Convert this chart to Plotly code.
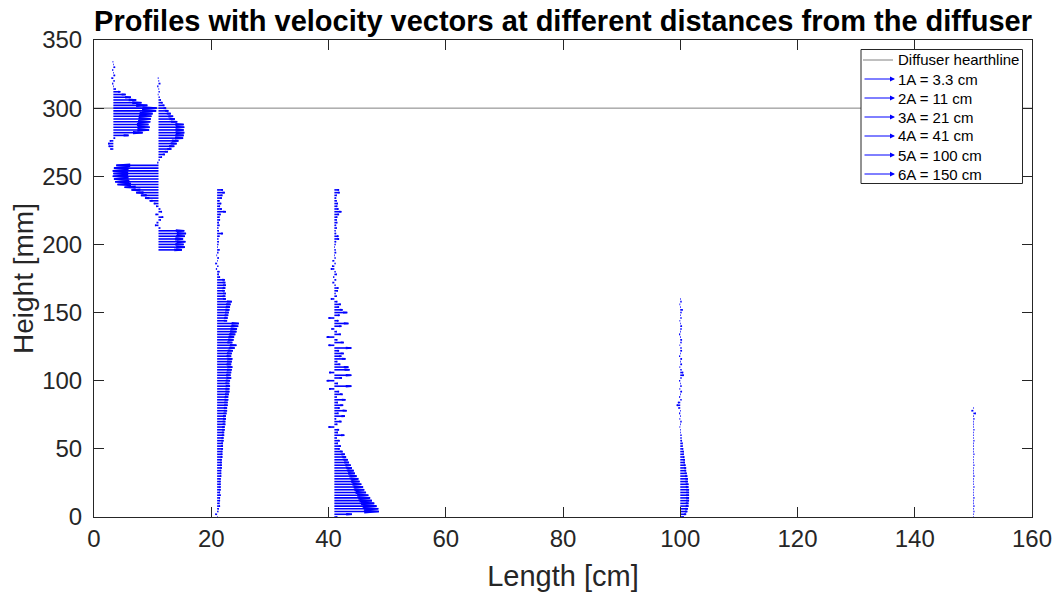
import plotly.graph_objects as go

# ---------------- data ----------------
X_POS = [3.3, 11, 21, 41, 100, 150]          # cm, profile positions
NAMES = ["1A = 3.3 cm", "2A = 11 cm", "3A = 21 cm", "4A = 41 cm", "5A = 100 cm", "6A = 150 cm"]
DIFFUSER_H = 300                               # mm

H1 = list(range(270, 336, 2))
U1 = [-0.5, -0.8, -0.9, -0.6, 0.3, 2.6, 5.0, 6.1, 6.2, 6.0,
      6.3, 6.4, 6.5, 6.7, 7.3, 7.4, 5.8, 4.8, 3.9, 3.0,
      2.1, 1.2, 0.4, 0.1, -0.2, 0.2, -0.3, 0.3, 0.1, -0.2,
      0.3, 0.1, -0.1]

H2 = list(range(196, 324, 2))
U2 = [4.0, 4.5, 4.3, 4.6, 4.2, 4.5, 4.7, 4.4, 0.3, -0.6,
      -0.3, 0.4, 0.8, -0.5, 0.6, 0.3, -0.4, -0.8, -1.5, -2.3,
      -3.0, -3.8, -4.6, -5.8, -7.0, -7.4, -7.6, -7.8, -7.7, -7.8,
      -7.6, -7.2, -0.2, 0.2, 0.6, 1.1, 1.6, 2.2, 2.7, 3.1,
      3.4, 4.2, 4.3, 4.4, 4.3, 4.4, 4.3, 3.2, 2.8, 2.5,
      2.1, 1.7, 1.3, 1.0, 0.7, 0.4, 0.2, -0.1, 0.2, 0.1,
      -0.2, 0.3, 0.1, -0.1]

H3 = list(range(0, 242, 2))
U3 = [0.1, -0.3, 0.2, 0.3, 0.5, 0.4, 0.5, 0.5, 0.6, 0.5,
      0.6, 0.6, 0.6, 0.6, 0.6, 0.7, 0.7, 0.7, 0.8, 0.8,
      0.8, 0.8, 0.9, 0.9, 0.9, 1.0, 1.0, 1.0, 1.1, 1.1,
      1.2, 1.2, 1.3, 1.3, 1.4, 1.4, 1.5, 1.5, 1.6, 1.7,
      1.7, 1.8, 1.8, 1.9, 1.9, 2.0, 2.1, 2.1, 2.2, 2.1,
      2.2, 2.4, 2.3, 2.4, 2.5, 2.6, 2.4, 2.5, 2.6, 2.4,
      2.5, 2.7, 3.0, 3.3, 2.6, 2.8, 2.9, 3.1, 3.3, 3.4,
      3.6, 3.7, 1.7, 1.8, 1.9, 2.0, 2.1, 2.2, 2.3, 2.5,
      1.5, 1.4, 1.5, 1.3, 1.4, 1.5, 1.4, 1.3, 0.5, 0.3,
      0.4, -0.2, 0.2, -0.3, 0.1, 0.3, -0.1, 0.2, 0.4, 0.1,
      0.2, 0.3, 0.2, 0.4, 1.0, 0.3, 0.2, 0.4, 0.3, 0.5,
      0.4, 0.6, 1.5, 0.8, 0.5, 0.7, 0.4, 0.8, 0.9, 1.3,
      1.0]

H4 = list(range(0, 242, 2))
U4 = [0.5, 3.0, 7.6, 7.5, 7.2, 6.8, 6.4, 6.1, 5.8, 5.4,
      5.1, 4.9, 4.6, 4.3, 4.1, 3.8, 3.5, 3.3, 3.0, 2.8,
      2.5, 2.3, 2.0, 1.8, 1.4, 0.9, 1.1, 0.6, 0.9, 0.4,
      1.7, 0.6, 0.8, -1.0, 0.5, 1.2, 0.3, 1.8, 0.7, 2.1,
      0.9, 1.5, 0.6, 1.9, 0.4, 1.4, 0.8, -0.9, 2.9, 0.6,
      -1.3, 1.3, 2.9, -0.9, 2.6, 2.4, 1.0, 0.5, 1.9, 1.2,
      1.6, 0.8, 2.9, -1.0, 1.6, 0.5, -1.3, 1.1, 0.4, -0.5,
      1.2, 2.4, 0.7, -1.0, 0.9, 2.2, 1.4, 0.8, 1.1, 0.5,
      -0.6, 0.4, 0.2, 0.6, 0.7, 0.2, -0.3, 0.3, -0.2, 0.4,
      0.2, -0.6, -0.4, 0.2, -0.3, 0.2, 0.1, 0.3, 0.2, 0.1,
      0.2, 0.3, 0.8, 0.7, 0.3, 0.2, 0.4, 0.3, 0.5, 0.4,
      0.5, 0.8, 1.2, 0.7, 0.5, 0.6, 0.4, 0.3, 0.4, 0.9,
      0.8]

H5 = list(range(0, 162, 2))
U5 = [0.6, 1.0, 1.2, 1.3, 1.4, 1.4, 1.5, 1.5, 1.5, 1.5,
      1.5, 1.4, 1.4, 1.3, 1.3, 1.2, 1.1, 1.0, 1.0, 0.9,
      0.8, 0.8, 0.7, 0.6, 0.6, 0.5, 0.4, 0.4, 0.3, 0.2,
      0.2, 0.1, 0.1, -0.1, 0.1, 0.2, -0.1, 0.1, -0.2, 0.1,
      -0.3, -0.6, -0.4, 0.2, -0.2, 0.1, 0.3, -0.1, 0.2, 0.1,
      -0.2, 0.2, 0.6, 0.5, 0.2, -0.1, 0.3, 0.1, 0.3, -0.2,
      0.1, 0.3, 0.2, -0.1, 0.2, 0.3, 0.1, -0.2, 0.1, 0.2,
      0.3, 0.1, -0.1, 0.2, 0.1, 0.2, 0.4, 0.1, -0.1, 0.2,
      0.1]

H6 = list(range(0, 82, 2))
U6 = [0.1, 0.1, 0.15, 0.1, 0.15, 0.1, 0.1, 0.15, 0.1, 0.1,
      0.1, 0.15, 0.1, 0.1, 0.1, 0.15, 0.1, 0.1, 0.1, 0.15,
      0.1, 0.1, 0.1, 0.15, 0.1, 0.1, 0.1, 0.1, 0.15, 0.1,
      0.1, 0.1, 0.15, 0.1, 0.1, 0.1, 0.15, 0.1, 0.4, -0.3,
      0.1]

HEIGHTS = [H1, H2, H3, H4, H5, H6]
SPEEDS = [U1, U2, U3, U4, U5, U6]

X_TICKS = [0, 20, 40, 60, 80, 100, 120, 140, 160]
Y_TICKS = [0, 50, 100, 150, 200, 250, 300, 350]

# ---------------- style ----------------
FONT = 'Arial, "Liberation Sans", Helvetica, sans-serif'
AX = "#262626"
BLUE = "rgb(0,0,255)"
W, H = 1059, 598
L, R, T, B = 94, 27, 40, 81

fig = go.Figure()

fig.add_trace(go.Scatter(x=[X_TICKS[0], X_TICKS[-1]], y=[DIFFUSER_H, DIFFUSER_H],
                         mode="lines", line=dict(color="rgb(128,128,128)", width=1),
                         name="Diffuser hearthline", showlegend=False, hoverinfo="skip"))

for x0, hs, us, nm in zip(X_POS, HEIGHTS, SPEEDS, NAMES):
    xs, ys = [], []
    for h, u in zip(hs, us):
        xs += [x0, x0 + u, None]
        ys += [h, h, None]
        # small arrow head (quiver style)
        xs += [x0 + 0.67 * u, x0 + u, x0 + 0.67 * u, None]
        ys += [h + 0.11 * abs(u), h, h - 0.11 * abs(u), None]
    fig.add_trace(go.Scatter(x=xs, y=ys, mode="lines", line=dict(color=BLUE, width=1.6),
                             name=nm, showlegend=False, hoverinfo="skip"))

# ---------------- manual MATLAB-like legend (pixel positions) ----------------
pw, ph = W - L - R, H - T - B
def px2x(px): return (px - L) / pw
def py2y(py): return (H - B - py) / ph

shapes = [dict(type="rect", xref="paper", yref="paper",
               x0=px2x(861), x1=px2x(1022.5), y0=py2y(183.5), y1=py2y(49.5),
               fillcolor="white", line=dict(color=AX, width=1), layer="above"),
          dict(type="line", xref="paper", yref="paper",
               x0=px2x(863), x1=px2x(893), y0=py2y(60), y1=py2y(60),
               line=dict(color="rgb(128,128,128)", width=1), layer="above")]
annotations = []
rows = [60, 79, 98, 117, 136, 155, 174]
labels = ["Diffuser hearthline"] + NAMES
for i, (ry, lab) in enumerate(zip(rows, labels)):
    annotations.append(dict(xref="paper", yref="paper", x=px2x(896), y=py2y(ry),
                            text=lab, showarrow=False, xanchor="left", yanchor="middle",
                            font=dict(family=FONT, size=15, color="black")))
    if i > 0:
        annotations.append(dict(xref="paper", yref="paper", x=px2x(895), y=py2y(ry),
                                ax=-32, ay=0, text="", showarrow=True,
                                arrowhead=2, arrowsize=1, arrowwidth=1, arrowcolor=BLUE))

fig.update_layout(
    width=W, height=H,
    margin=dict(l=L, r=R, t=T, b=B, autoexpand=False),
    paper_bgcolor="white", plot_bgcolor="white",
    showlegend=False,
    font=dict(family=FONT, color=AX),
    title=dict(text="<b>Profiles with velocity vectors at different distances from the diffuser</b>",
               x=0.5, xref="paper", xanchor="center", y=1 - 21 / H, yref="container",
               yanchor="middle", font=dict(family=FONT, size=29, color="black")),
    shapes=shapes, annotations=annotations,
)
fig.update_xaxes(range=[0, 160], tickvals=X_TICKS, ticks="inside", ticklen=10,
                 showline=True, mirror="ticks", linecolor=AX, linewidth=1, tickcolor=AX,
                 showgrid=False, zeroline=False, automargin=False,
                 tickfont=dict(size=24, color=AX),
                 title=dict(text="Length [cm]", font=dict(size=29, color=AX), standoff=14))
fig.update_yaxes(range=[0, 350], tickvals=Y_TICKS, ticks="inside", ticklen=10,
                 showline=True, mirror="ticks", linecolor=AX, linewidth=1, tickcolor=AX,
                 showgrid=False, zeroline=False, automargin=False, ticklabelstandoff=6,
                 tickfont=dict(size=24, color=AX),
                 title=dict(text="Height [mm]", font=dict(size=28, color=AX), standoff=0))

# remove the browser's default page margin so the figure fills the window exactly
fig.write_html("out.html", config={"displayModeBar": False},
               post_script="document.body.style.margin='0px';document.body.style.overflow='hidden';")
